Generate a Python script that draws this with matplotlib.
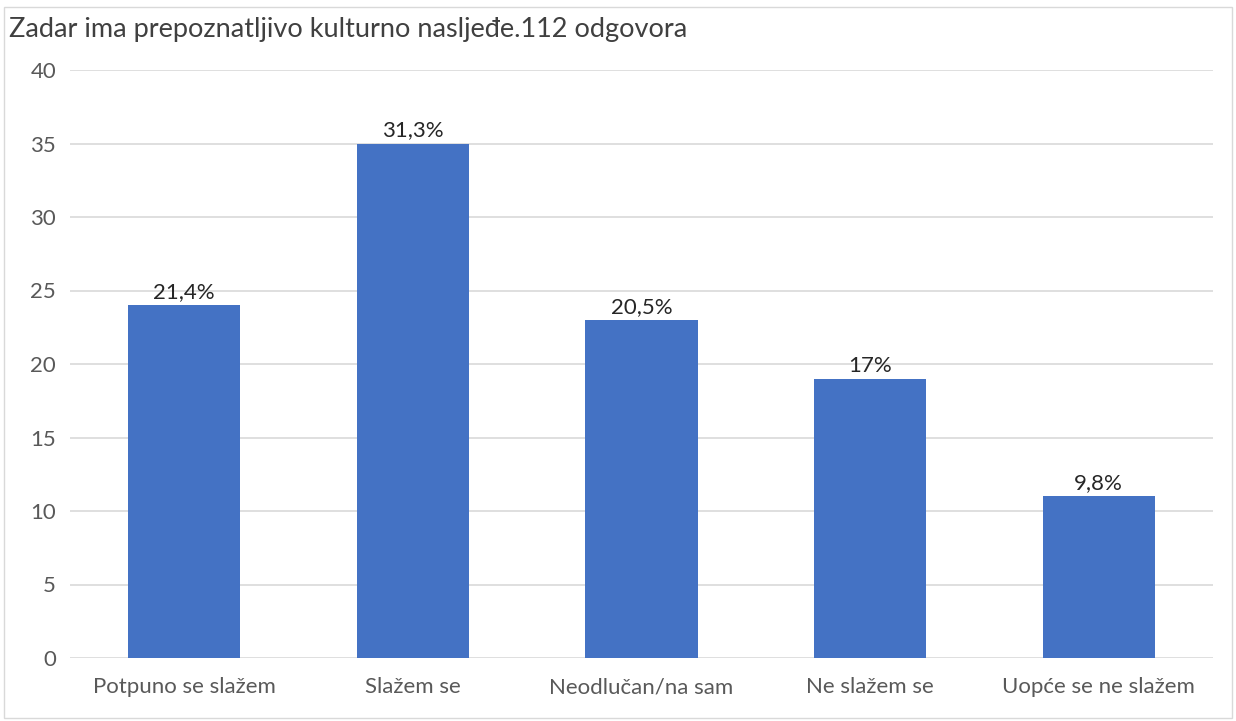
import matplotlib
matplotlib.use("Agg")
import matplotlib.pyplot as plt
import matplotlib.patches as mpatches

categories = ["Potpuno se slažem", "Slažem se", "Neodlučan/na sam", "Ne slažem se", "Uopće se ne slažem"]
counts = [24, 35, 23, 19, 11]
pct_labels = ["21,4%", "31,3%", "20,5%", "17%", "9,8%"]
y_ticks = [0, 5, 10, 15, 20, 25, 30, 35, 40]

plt.rcParams['font.family'] = ['Lato', 'DejaVu Sans']

W, H = 1236, 721
fig = plt.figure(figsize=(W/100, H/100), dpi=100)
ax1 = fig.add_axes([70/W, 1-658/H, (1213-70)/W, (658-70)/H])

x = range(len(categories))
bars = ax1.bar(x, counts, width=0.49, color="#4472C4", zorder=3)

for b, lab in zip(bars, pct_labels):
    ax1.text(b.get_x() + b.get_width()/2, b.get_height() + 0.2, lab,
             ha="center", va="bottom", fontsize=16, color="#262626")

ax1.set_xlim(-0.5, len(categories) - 0.5)
ax1.set_ylim(0, 40)
ax1.set_yticks(y_ticks)
ax1.set_xticks(list(x))
ax1.set_xticklabels(categories)
ax1.grid(axis="y", color="#d9d9d9", linewidth=1.2, zorder=0)
ax1.tick_params(axis="both", length=0, labelsize=16, labelcolor="#595959")
ax1.tick_params(axis="y", pad=10)
ax1.tick_params(axis="x", pad=14)
for s in ax1.spines.values():
    s.set_visible(False)

fig.text(9/W, 1-29/H, "Zadar ima prepoznatljivo kulturno nasljeđe.112 odgovora",
         ha="left", va="center", fontsize=19.5, color="#404040")

# light frame round the whole picture
fig.patches.append(mpatches.Rectangle((4/W, 3/H), 1-8/W, 1-10/H, transform=fig.transFigure,
                                      fill=False, edgecolor="#d9d9d9", linewidth=1))

fig.savefig("out.png", dpi=100)
